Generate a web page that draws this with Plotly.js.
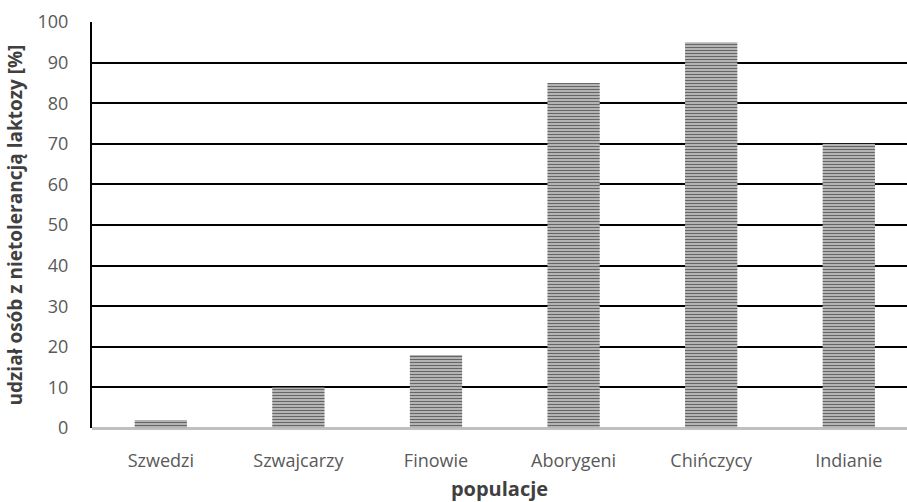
<!DOCTYPE html>
<html>
<head>
<meta charset="utf-8">
<script src="https://cdn.plot.ly/plotly-3.0.1.min.js"></script>
<style>html,body{margin:0;padding:0;background:#fff;}#chart{width:907px;height:502px;}</style>
</head>
<body>
<div id="chart"></div>
<script>
const categories = ["Szwedzi", "Szwajcarzy", "Finowie", "Aborygeni", "Chińczycy", "Indianie"];
const values = [2, 10, 18, 85, 95, 70];
const yTicks = [0, 10, 20, 30, 40, 50, 60, 70, 80, 90, 100];

const trace = {
  type: "bar",
  x: categories,
  y: values,
  width: 0.38,
  marker: {
    color: "#a8a8a8",
    line: {width: 0},
    pattern: {shape: "-", size: 3, solidity: 0.45, fgcolor: "#666666", bgcolor: "#c4c4c4", fillmode: "replace"}
  },
  hoverinfo: "none"
};

const layout = {
  width: 907, height: 502,
  margin: {l: 92, r: 0, t: 22, b: 74},
  paper_bgcolor: "#fff", plot_bgcolor: "#fff",
  showlegend: false,
  font: {family: "Open Sans, sans-serif", color: "#595959"},
  xaxis: {
    type: "category",
    range: [-0.5, 5.423],
    showgrid: false,
    showline: false,
    zeroline: false,
    ticks: "",
    ticklabelstandoff: 20,
    tickfont: {size: 18, color: "#595959"},
    title: {text: "<b>populacje</b>", font: {size: 20, color: "#404040"}, standoff: 12},
    automargin: false
  },
  yaxis: {
    range: [0, 100],
    tickvals: yTicks,
    ticktext: yTicks.map(String),
    showgrid: true,
    gridcolor: "#000",
    gridwidth: 2,
    showline: true,
    linecolor: "#000",
    linewidth: 2,
    zeroline: true,
    zerolinecolor: "#c0c0c0",
    zerolinewidth: 3,
    ticks: "",
    ticklabelstandoff: 18,
    tickfont: {size: 18, color: "#595959"},
    title: {text: "<b>udział osób z nietolerancją laktozy [%]</b>", font: {size: 19, color: "#404040"}, standoff: 10},
    automargin: false
  }
};

Plotly.newPlot("chart", [trace], layout, {staticPlot: true, displayModeBar: false});
</script>
</body>
</html>
